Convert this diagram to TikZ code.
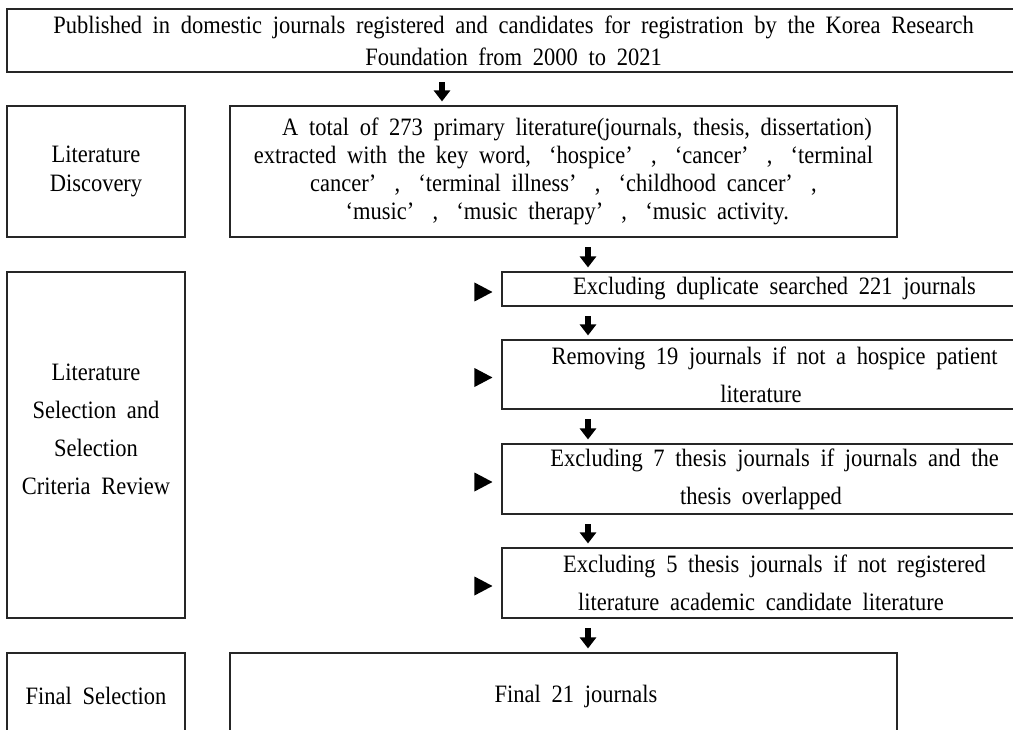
\documentclass[tikz,border=0pt]{standalone}
\usepackage{fontspec}
\setmainfont{Liberation Serif}[FakeStretch=0.9,WordSpace=1.9]
\usetikzlibrary{arrows.meta,calc}
\newcommand\oq{\makebox[0.6em][r]{‘}}
\newcommand\cq{\makebox[0.6em][l]{’}}
\newcommand\ind{\hspace*{27pt}}
\begin{document}
\begin{tikzpicture}[x=1pt,y=-1pt,
  box/.style={draw=black!85,line width=1.1pt,rectangle,inner sep=0pt,align=center},
  txt/.style={font=\fontsize{25}{#1}\selectfont},
  dnarrow/.style={draw=black,line width=6pt,-{Triangle[width=16pt,length=11pt]},shorten <=9.5pt,shorten >=4pt},
  tri/.style={fill=black}]
\useasboundingbox (0,0) rectangle (1013,730);
\clip (0,0) rectangle (1013,730);

% top box
\node[box,txt=32,minimum width=1013pt,minimum height=63pt] (top) at (513.5,40.5)
  {Published in domestic journals registered and candidates for registration by the Korea Research\\Foundation from 2000 to 2021};

% left column
\node[box,txt=29,minimum width=178pt,minimum height=131pt] (disc) at (96,171.5) {Literature\\Discovery};
\node[box,minimum width=178pt,minimum height=346pt] (sel) at (96,445) {};
\node[txt=38,align=center,inner sep=0pt] (seltext) at (96,429.5) {Literature\\Selection and\\Selection\\Criteria Review};
\node[box,txt=30,minimum width=178pt,minimum height=86pt] (finsel) at (96,696) {Final Selection};

% main column
\node[box,txt=28,minimum width=667pt,minimum height=131pt] (main) at (563.5,171.5)
  {\ind A total of 273 primary literature(journals, thesis, dissertation)\\
   extracted with the key word, \oq hospice\cq{} , \oq cancer\cq{} , \oq terminal\\
   cancer\cq{} , \oq terminal illness\cq{} , \oq childhood cancer\cq{} ,\\
   \oq music\cq{} , \oq music therapy\cq{} , \oq music activity.};

\node[box,txt=38,minimum width=518pt,minimum height=34pt] (b1) at (761,289)
  {\ind Excluding duplicate searched 221 journals};
\node[box,txt=38,minimum width=518pt,minimum height=69pt] (b2) at (761,374.5)
  {\ind Removing 19 journals if not a hospice patient\\literature};
\node[box,txt=38,minimum width=518pt,minimum height=70pt] (b3) at (761,479)
  {\ind Excluding 7 thesis journals if journals and the\\thesis overlapped};
\node[box,txt=38,minimum width=518pt,minimum height=70pt] (b4) at (761,583)
  {\ind Excluding 5 thesis journals if not registered\\literature academic candidate literature};

\node[box,txt=30,minimum width=667pt,minimum height=86pt] (fin) at (563.5,696)
  {\hspace*{25pt}Final 21 journals};

% arrow columns
\coordinate (c1) at (442,0);
\coordinate (c2) at (588,0);
\draw[dnarrow] (top.south -| c1) -- (main.north -| c1);
\draw[dnarrow] (main.south -| c2) -- (b1.north -| c2);
\draw[dnarrow] (b1.south -| c2) -- (b2.north -| c2);
\draw[dnarrow] (b2.south -| c2) -- (b3.north -| c2);
\draw[dnarrow] (b3.south -| c2) -- (b4.north -| c2);
\draw[dnarrow] (b4.south -| c2) -- (fin.north -| c2);

% side pointers
\foreach \b in {b1,b2,b3,b4}{
  \fill[tri] ($(\b.west)+(-27,-6.5)$) -- ($(\b.west)+(-9,3)$) -- ($(\b.west)+(-27,12.5)$) -- cycle;
}
\end{tikzpicture}
\end{document}
